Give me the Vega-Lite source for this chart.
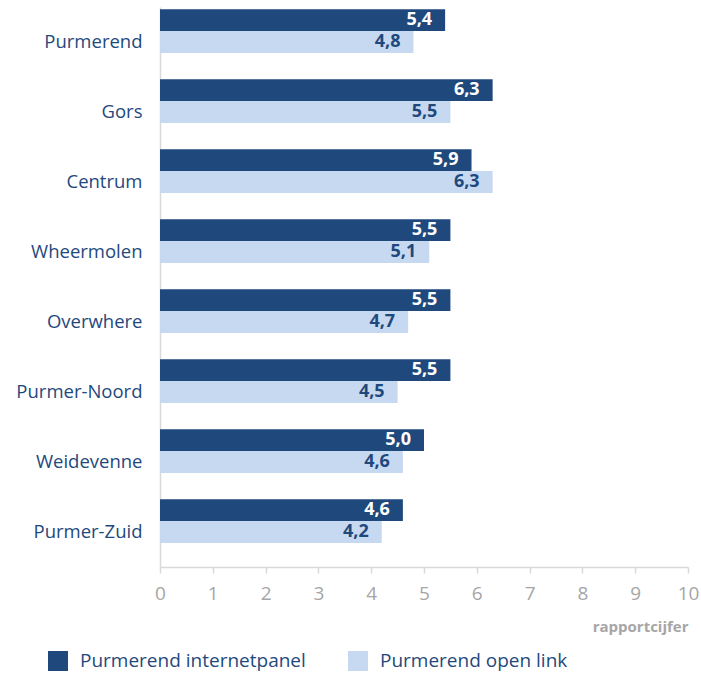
{
  "$schema": "https://vega.github.io/schema/vega-lite/v6.json",
  "width": 528,
  "height": 560,
  "autosize": {"type": "none"},
  "padding": {"left": 160, "top": 7, "right": 13, "bottom": 108},
  "config": {"view": {"stroke": null}, "font": "Open Sans"},
  "data": {
    "values": [
      {"wijk": "Purmerend", "serie": "Purmerend internetpanel", "waarde": 5.4, "label": "5,4"},
      {"wijk": "Purmerend", "serie": "Purmerend open link", "waarde": 4.8, "label": "4,8"},
      {"wijk": "Gors", "serie": "Purmerend internetpanel", "waarde": 6.3, "label": "6,3"},
      {"wijk": "Gors", "serie": "Purmerend open link", "waarde": 5.5, "label": "5,5"},
      {"wijk": "Centrum", "serie": "Purmerend internetpanel", "waarde": 5.9, "label": "5,9"},
      {"wijk": "Centrum", "serie": "Purmerend open link", "waarde": 6.3, "label": "6,3"},
      {"wijk": "Wheermolen", "serie": "Purmerend internetpanel", "waarde": 5.5, "label": "5,5"},
      {"wijk": "Wheermolen", "serie": "Purmerend open link", "waarde": 5.1, "label": "5,1"},
      {"wijk": "Overwhere", "serie": "Purmerend internetpanel", "waarde": 5.5, "label": "5,5"},
      {"wijk": "Overwhere", "serie": "Purmerend open link", "waarde": 4.7, "label": "4,7"},
      {"wijk": "Purmer-Noord", "serie": "Purmerend internetpanel", "waarde": 5.5, "label": "5,5"},
      {"wijk": "Purmer-Noord", "serie": "Purmerend open link", "waarde": 4.5, "label": "4,5"},
      {"wijk": "Weidevenne", "serie": "Purmerend internetpanel", "waarde": 5.0, "label": "5,0"},
      {"wijk": "Weidevenne", "serie": "Purmerend open link", "waarde": 4.6, "label": "4,6"},
      {"wijk": "Purmer-Zuid", "serie": "Purmerend internetpanel", "waarde": 4.6, "label": "4,6"},
      {"wijk": "Purmer-Zuid", "serie": "Purmerend open link", "waarde": 4.2, "label": "4,2"}
    ]
  },
  "encoding": {
    "y": {
      "field": "wijk",
      "type": "nominal",
      "sort": null,
      "scale": {"paddingInner": 0, "paddingOuter": 0},
      "axis": {
        "title": null,
        "ticks": false,
        "labelPadding": 18,
        "labelFontSize": 18.5,
        "labelColor": "#1f497d",
        "labelLimit": 0,
        "domainColor": "#d9d9d9",
        "domainWidth": 1.5
      }
    },
    "yOffset": {
      "field": "serie",
      "type": "nominal",
      "scale": {
        "domain": ["Purmerend internetpanel", "Purmerend open link", "leeg"],
        "paddingInner": 0,
        "paddingOuter": 0.1
      }
    },
    "x": {
      "field": "waarde",
      "type": "quantitative",
      "scale": {"domain": [0, 10]},
      "axis": {
        "title": "rapportcijfer",
        "titleAnchor": "end",
        "titleAlign": "right",
        "titleColor": "#a6a6a6",
        "titleFontSize": 15,
        "titleFontWeight": "bold",
        "titlePadding": 16,
        "values": [0, 1, 2, 3, 4, 5, 6, 7, 8, 9, 10],
        "labelOverlap": false,
        "labelFlush": false,
        "grid": false,
        "tickSize": 6,
        "tickColor": "#d9d9d9",
        "tickWidth": 1.5,
        "domainColor": "#d9d9d9",
        "domainWidth": 1.5,
        "labelFontSize": 19,
        "labelColor": "#a6a6a6",
        "labelPadding": 11
      }
    }
  },
  "layer": [
    {
      "mark": {"type": "bar"},
      "encoding": {
        "color": {
          "field": "serie",
          "type": "nominal",
          "scale": {
            "domain": ["Purmerend internetpanel", "Purmerend open link"],
            "range": ["#1f497d", "#c6d9f1"]
          },
          "legend": {
            "title": null,
            "orient": "none",
            "legendX": -112,
            "legendY": 644,
            "direction": "horizontal",
            "symbolType": "square",
            "symbolSize": 400,
            "symbolStrokeWidth": 0,
            "labelFontSize": 19,
            "labelColor": "#1f497d",
            "labelLimit": 0,
            "labelOffset": 12,
            "columnPadding": 42,
            "padding": 0
          }
        }
      }
    },
    {
      "mark": {
        "type": "text",
        "align": "right",
        "baseline": "middle",
        "dx": -13,
        "fontSize": 18,
        "fontWeight": "bold"
      },
      "encoding": {
        "text": {"field": "label"},
        "color": {
          "condition": {"test": "datum.serie === 'Purmerend internetpanel'", "value": "#ffffff"},
          "value": "#1f497d"
        }
      }
    }
  ]
}
